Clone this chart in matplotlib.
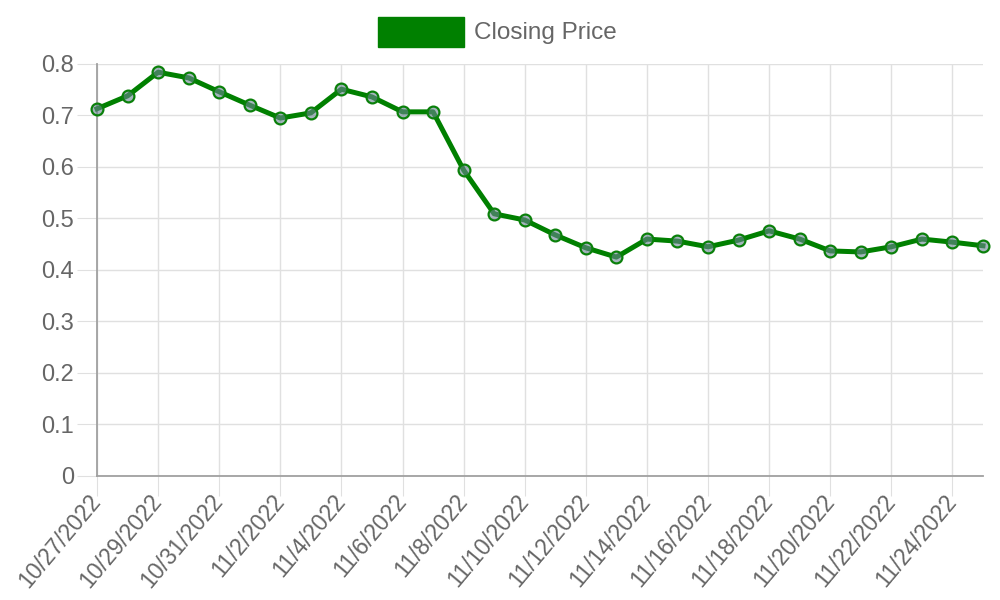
import matplotlib
matplotlib.use("Agg")
import matplotlib.pyplot as plt
from matplotlib.patches import Rectangle

# closing prices
dates = ["10/27/2022", "10/28/2022", "10/29/2022", "10/30/2022", "10/31/2022",
         "11/1/2022", "11/2/2022", "11/3/2022", "11/4/2022", "11/5/2022",
         "11/6/2022", "11/7/2022", "11/8/2022", "11/9/2022", "11/10/2022",
         "11/11/2022", "11/12/2022", "11/13/2022", "11/14/2022", "11/15/2022",
         "11/16/2022", "11/17/2022", "11/18/2022", "11/19/2022", "11/20/2022",
         "11/21/2022", "11/22/2022", "11/23/2022", "11/24/2022", "11/25/2022"]
closing = [0.713, 0.738, 0.784, 0.773, 0.746,
           0.720, 0.695, 0.705, 0.751, 0.736,
           0.707, 0.707, 0.594, 0.509, 0.497,
           0.468, 0.443, 0.425, 0.460, 0.456,
           0.445, 0.458, 0.476, 0.460, 0.437,
           0.435, 0.445, 0.460, 0.454, 0.447]
yticks = [0, 0.1, 0.2, 0.3, 0.4, 0.5, 0.6, 0.7, 0.8]

plt.rcParams['font.family'] = ['Liberation Sans', 'DejaVu Sans']
text_col = '#666666'
grid_col = '#e0e0e0'
axis_col = '#a0a0a0'

fig = plt.figure(figsize=(10, 6), dpi=100)
ax = fig.add_axes([0.097, 0.2067, 0.886, 0.6867])

x = list(range(len(dates)))
ax.plot(x, closing, color='#008000', lw=3.6, zorder=3, solid_joinstyle='round',
        marker='o', ms=8.5, mfc=(0.42, 0.52, 0.58, 0.6), mec='#0a800a', mew=1.6,
        clip_on=False)

ax.set_xlim(0, len(dates) - 1)
ax.set_ylim(0, 0.8)
ax.set_xticks(x[::2])
ax.set_xticklabels(dates[::2], rotation=50, ha='right', va='center',
                   rotation_mode='anchor', fontsize=16.5, color=text_col)
ax.set_yticks(yticks)
ax.set_yticklabels([f"{v:g}" for v in yticks], fontsize=17, color=text_col)

ax.grid(True, color=grid_col, lw=1, zorder=0)
ax.tick_params(axis='x', length=14.4, color=grid_col, pad=1)
ax.tick_params(axis='y', length=14.4, color=grid_col, pad=2)
for s in ['top', 'right']:
    ax.spines[s].set_visible(False)
for s in ['left', 'bottom']:
    ax.spines[s].set_color(axis_col)
    ax.spines[s].set_linewidth(1.3)

# legend drawn like the reference: a filled box followed by the label
fig.add_artist(Rectangle((0.378, 1 - 47 / 600), 0.086, 30 / 600,
                         transform=fig.transFigure, color='#008000'))
fig.text(0.474, 1 - 33 / 600, "Closing Price", fontsize=17.5, color=text_col,
         va='center', ha='left')

fig.savefig("out.png", dpi=100)
